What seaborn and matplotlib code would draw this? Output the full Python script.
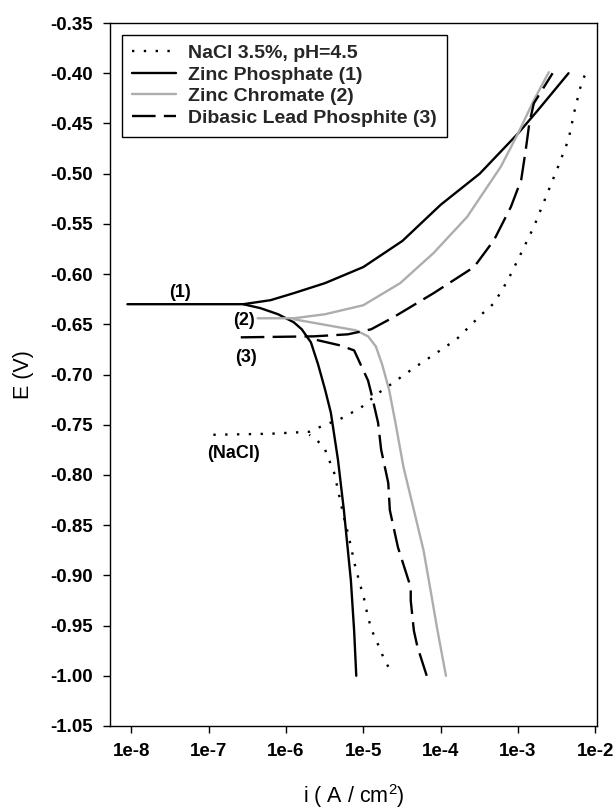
import matplotlib
matplotlib.use('Agg')
import matplotlib.pyplot as plt
from matplotlib.ticker import NullLocator, FormatStrFormatter
import pandas as pd
import seaborn as sns

sns.set_theme(style='ticks')
plt.rcParams['font.family'] = ['Liberation Sans', 'DejaVu Sans']
plt.rcParams['mathtext.fontset'] = 'custom'
plt.rcParams['mathtext.rm'] = 'Liberation Sans'
plt.rcParams['mathtext.default'] = 'regular'

coatings = ['NaCl 3.5%, pH=4.5', 'Zinc Phosphate (1)',
            'Zinc Chromate (2)', 'Dibasic Lead Phosphite (3)']

# cathodic branches: from -1.0 V up to the corrosion potential
# anodic branches: from the tip of the horizontal part up to -0.40 V
nacl_cat_i = [2.1e-5, 1.8e-5, 1.6e-5, 1.4e-5, 1.26e-5, 1.15e-5, 1.02e-5, 9.3e-6,
              7.9e-6, 6.5e-6, 5.6e-6, 4.7e-6, 4.2e-6, 3.1e-6, 2.3e-6, 2.0e-6]
nacl_cat_e = [-0.991, -0.981, -0.971, -0.962, -0.952, -0.942, -0.923, -0.912,
              -0.892, -0.862, -0.842, -0.815, -0.798, -0.772, -0.763, -0.760]
nacl_an_i = [1.15e-7, 6.3e-7, 2.0e-6, 2.8e-6, 5.1e-6, 9.3e-6, 1.6e-5, 2.45e-5,
             4.4e-5, 7.9e-5, 1.6e-4, 3.5e-4, 4.9e-4, 7.4e-4, 1.1e-3, 1.6e-3,
             2.3e-3, 3.3e-3, 4.5e-3, 5.4e-3, 6.6e-3, 7.6e-3]
nacl_an_e = [-0.760, -0.759, -0.757, -0.752, -0.744, -0.733, -0.718, -0.708,
             -0.694, -0.681, -0.665, -0.639, -0.629, -0.606, -0.579, -0.553,
             -0.523, -0.493, -0.466, -0.437, -0.410, -0.399]

zp_cat_i = [8.1e-6, 7.6e-6, 6.9e-6, 5.6e-6, 4.7e-6, 3.8e-6, 3.2e-6, 2.6e-6,
            2.1e-6, 1.6e-6, 1.26e-6, 7.9e-7, 4.7e-7, 2.8e-7]
zp_cat_e = [-1.000, -0.955, -0.905, -0.835, -0.785, -0.738, -0.715, -0.690,
            -0.668, -0.655, -0.648, -0.640, -0.634, -0.630]
zp_an_i = [8.9e-9, 2.8e-7, 6.3e-7, 1.26e-6, 3.2e-6, 1.0e-5, 3.2e-5, 1.0e-4,
           3.2e-4, 1.0e-3, 1.8e-3, 4.5e-3]
zp_an_e = [-0.630, -0.630, -0.626, -0.619, -0.609, -0.593, -0.567, -0.531,
           -0.500, -0.460, -0.437, -0.400]

zc_cat_i = [1.17e-4, 9.1e-5, 7.4e-5, 6.0e-5, 4.5e-5, 3.3e-5, 2.6e-5, 2.15e-5,
            1.75e-5, 1.45e-5, 1.15e-5, 8.0e-6, 1.26e-6]
zc_cat_e = [-1.000, -0.955, -0.915, -0.875, -0.835, -0.792, -0.748, -0.715,
            -0.690, -0.672, -0.662, -0.656, -0.645]
zc_an_i = [4.3e-7, 1.26e-6, 3.2e-6, 1.0e-5, 3.0e-5, 8.1e-5, 2.2e-4, 6.0e-4,
           1.0e-3, 1.6e-3, 2.5e-3]
zc_an_e = [-0.644, -0.644, -0.640, -0.631, -0.609, -0.579, -0.543, -0.493,
           -0.460, -0.427, -0.399]

dlp_cat_i = [6.6e-5, 5.0e-5, 4.5e-5, 4.1e-5, 4.1e-5, 2.8e-5, 2.2e-5, 2.1e-5,
             1.7e-5, 1.55e-5, 1.26e-5, 1.15e-5, 7.6e-6, 5.0e-6, 2.3e-6]
dlp_cat_e = [-1.000, -0.971, -0.955, -0.925, -0.912, -0.872, -0.835, -0.808,
             -0.775, -0.748, -0.718, -0.706, -0.676, -0.671, -0.665]
dlp_an_i = [2.6e-7, 2.3e-6, 6.3e-6, 1.26e-5, 2.45e-5, 8.1e-5, 2.7e-4, 4.9e-4,
            8.1e-4, 1.1e-3, 1.26e-3, 1.4e-3, 1.6e-3, 2.8e-3]
dlp_an_e = [-0.663, -0.662, -0.660, -0.655, -0.643, -0.619, -0.593, -0.566,
            -0.533, -0.506, -0.476, -0.450, -0.430, -0.400]

curves = {
    coatings[0]: [(nacl_cat_i, nacl_cat_e), (nacl_an_i, nacl_an_e)],
    coatings[1]: [(zp_cat_i, zp_cat_e), (zp_an_i, zp_an_e)],
    coatings[2]: [(zc_cat_i, zc_cat_e), (zc_an_i, zc_an_e)],
    coatings[3]: [(dlp_cat_i, dlp_cat_e), (dlp_an_i, dlp_an_e)],
}

rows = []
for name, branches in curves.items():
    for b, (ii, ee) in enumerate(branches):
        for x, y in zip(ii, ee):
            rows.append({'coating': name, 'branch': b, 'i': x, 'E': y})
df = pd.DataFrame(rows)

fig = plt.figure(figsize=(6.16, 8.11), dpi=100)
ax = fig.add_axes([110 / 616, 1 - 726 / 811, 487 / 616, 703 / 811])
ax.set_xscale('log')

palette = {coatings[0]: 'black', coatings[1]: 'black',
           coatings[2]: '#adadad', coatings[3]: 'black'}
dashes = {coatings[0]: (1, 4), coatings[1]: '',
          coatings[2]: '', coatings[3]: (10, 3.5)}
sns.lineplot(data=df, x='i', y='E', hue='coating', style='coating',
             units='branch', estimator=None, sort=False,
             hue_order=coatings, style_order=coatings,
             palette=palette, dashes=dashes, linewidth=1.7, ax=ax)

handles, labels = ax.get_legend_handles_labels()
keep = [(h, l) for h, l in zip(handles, labels) if l in coatings]
ax.legend([h for h, l in keep], [l for h, l in keep],
          loc='upper left', bbox_to_anchor=(0.0246, 0.983), borderaxespad=0,
          fancybox=False, framealpha=1, edgecolor='black',
          prop={'size': 14, 'weight': 'bold'},
          handlelength=2.3, handletextpad=0.6, labelspacing=0.2, borderpad=0.5)
ax.get_legend().get_frame().set_linewidth(1.0)

ax.set_xlim(5.3e-9, 1.05e-2)
ax.set_ylim(-1.05, -0.35)
xt = [1e-8, 1e-7, 1e-6, 1e-5, 1e-4, 1e-3, 1e-2]
ax.set_xticks(xt)
ax.set_xticklabels(['1e-8', '1e-7', '1e-6', '1e-5', '1e-4', '1e-3', '1e-2'])
ax.xaxis.set_minor_locator(NullLocator())
ax.set_yticks([-1.05 + 0.05 * k for k in range(15)])
ax.yaxis.set_major_formatter(FormatStrFormatter('%.2f'))
ax.tick_params(labelsize=13.5, length=5, width=1, pad=7, color='black',
               labelcolor='black', direction='out')
for lab in ax.get_xticklabels() + ax.get_yticklabels():
    lab.set_fontweight('bold')
for sp in ax.spines.values():
    sp.set_visible(True)
    sp.set_color('black')
    sp.set_linewidth(1.0)

ax.set_xlabel(r'i ( A / cm$^{2}$)', fontsize=15.5, color='black')
ax.set_ylabel('E (V)', fontsize=15.5, color='black')
ax.xaxis.set_label_coords(0.5, -0.08)
ax.yaxis.set_label_coords(-0.156, 0.5)

ann = dict(fontsize=13, fontweight='bold', ha='center', va='center', color='black')
ax.text(4.3e-8, -0.618, '(1)', **ann)
ax.text(2.9e-7, -0.646, '(2)', **ann)
ax.text(3.0e-7, -0.683, '(3)', **ann)
ax.text(2.1e-7, -0.779, '(NaCl)', **ann)

fig.savefig('out.png', dpi=100)
